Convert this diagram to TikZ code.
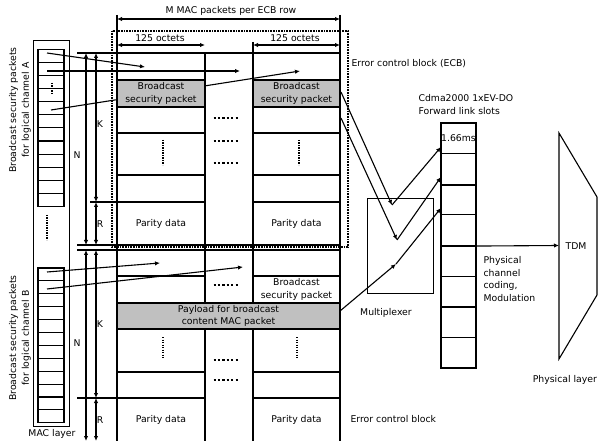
\documentclass[tikz,border=0pt]{standalone}
\usepackage{fontspec}
\setmainfont{DejaVu Sans}
\usetikzlibrary{arrows.meta, positioning, calc}
\definecolor{PacketGray}{HTML}{C0C0C0}

\begin{document}
\begin{tikzpicture}[x=1pt, y=-1pt, line width=1.1pt,
    every node/.style={font=\fontsize{9.3}{12.8}\selectfont, inner sep=0pt, align=center},
    pktbox/.style={draw, fill=PacketGray, minimum height=27pt},
    dimarrow/.style={{Latex[length=5pt, width=4.4pt]}-{Latex[length=5pt, width=4.4pt]}},
    flow/.style={-{Latex[length=5pt, width=4.4pt]}},
    hdots/.style={line width=2.3pt, dash pattern=on 2.3pt off 2.1pt},
    vdots/.style={line width=1.8pt, dash pattern=on 1.3pt off 1.2pt},
    ecbframe/.style={line width=2.6pt, dash pattern=on 0.9pt off 0.7pt}]
\useasboundingbox (0,0) rectangle (598,441);

% MAC layer stacks
\draw[line width=1pt] (33,41) rectangle (69,426);
\foreach \i in {1,...,12} {
  \node[draw, minimum width=26pt, minimum height=13.1pt] (a\i) at (51, 42.75+13.1*\i) {};
  \node[draw, minimum width=26pt, minimum height=12.9pt] (b\i) at (51, 261.55+12.9*\i) {};
}
\draw[vdots, line width=1.3pt] (52,83) -- (52,95);
\draw[vdots, line width=1.2pt] (47,215) -- (47,240);
\node[rotate=90] (chanA) at (20,110) {Broadcast security packets\\for logical channel A};
\node[rotate=90] (chanB) at (20,338) {Broadcast security packets\\for logical channel B};
\node (maclayer) at (52,434) {MAC layer};

% reference levels
\coordinate (nx) at (86,0);   \coordinate (kx) at (96,0);
\coordinate (c1l) at (117,0); \coordinate (c1r) at (205,0);
\coordinate (c3l) at (253,0); \coordinate (c3r) at (340,0);
\coordinate (hdrM) at (0,19); \coordinate (hdrO) at (0,45);
\coordinate (topA) at (0,53); \coordinate (parA) at (0,202); \coordinate (botA) at (0,245);
\coordinate (topB) at (0,250); \coordinate (parB) at (0,398); \coordinate (botB) at (0,441);

% ECB table
\foreach \xa/\xb in {117/205, 253/340} {
  \foreach \ya/\yb in {53/80, 80/107, 107/133, 133/175, 175/202, 202/245, 250/276, 276/303, 329/372, 372/398}
    \draw (\xa,\ya) rectangle (\xb,\yb);
}
\draw (117,15) -- (117,441) (340,15) -- (340,441);
\draw (205,53) -- (205,441) (253,42) -- (253,441);
\draw (205,53) -- (253,53) (205,245) -- (253,245) (205,250) -- (253,250);
\draw (77,53) -- (117,53) (90,202) -- (117,202) (77,245) -- (117,245)
      (77,250) -- (117,250) (77,398) -- (117,398);

% header
\draw[dimarrow] (c1l |- hdrM) -- (c3r |- hdrM);
\draw[dimarrow] (c1l |- hdrO) -- (c1r |- hdrO);
\draw[dimarrow] (c3l |- hdrO) -- (c3r |- hdrO);
\node (mrow) at (231,11) {M MAC packets per ECB row};
\node (octL) at (160,38.5) {125 octets};
\node (octR) at (295,38.5) {125 octets};

% N, K, R
\draw[dimarrow] (nx |- topA) -- (nx |- botA);
\draw[dimarrow] (kx |- topA) -- (kx |- parA);
\draw[dimarrow] (kx |- parA) -- (kx |- botA);
\draw[dimarrow] (nx |- topB) -- (nx |- botB);
\draw[dimarrow] (kx |- topB) -- (kx |- parB);
\draw[dimarrow] (kx |- parB) -- (kx |- botB);
\node (nA) at (77,155) {N};
\node (kA) at (100,124) {K};
\node (rA) at (100,224) {R};
\node (nB) at (77,343) {N};
\node (kB) at (100,324) {K};
\node (rB) at (100,420) {R};

% Arrows from the MAC layer
\coordinate (srcA1) at (47,53);  \coordinate (dstA1) at (145,67);
\coordinate (srcA2) at (47,71);  \coordinate (dstA2) at (240,71);
\coordinate (srcA3) at (51,110); \coordinate (dstA3) at (300,71);
\coordinate (srcB1) at (47,272); \coordinate (dstB1) at (160,263);
\coordinate (srcB2) at (47,289); \coordinate (dstB2) at (243,267);
\draw[flow] (srcA1) -- (dstA1);
\draw[flow] (srcA2) -- (dstA2);
\draw[flow] (srcA3) -- (dstA3);
\draw[flow] (srcB1) -- (dstB1);
\draw[flow] (srcB2) -- (dstB2);

% packets
\node[pktbox, minimum width=88pt] (bspA1) at (161,93.5) {Broadcast\\security packet};
\node[pktbox, minimum width=87pt] (bspA2) at (296.5,93.5) {Broadcast\\security packet};
\node[draw, minimum width=87pt, minimum height=27pt] (bspB2) at (296.5,289.5) {Broadcast\\security packet};
\node[pktbox, minimum width=223pt, minimum height=26pt] (payload) at (228.5,316) {Payload for broadcast\\content MAC packet};
\node (parA1) at (161,224) {Parity data};
\node (parA2) at (296.5,224) {Parity data};
\node (parB1) at (161,420) {Parity data};
\node (parB2) at (296.5,420) {Parity data};

% dots
\foreach \y in {118,141,163,285,360,380}
  \draw[hdots] (213.5,\y) -- (239,\y);
\draw[vdots] (163,140) -- (163,165) (299,140) -- (299,165);
\draw[vdots] (163,337) -- (163,358) (297,337) -- (297,358);

% ECB frame
\draw[ecbframe] (112,31) rectangle (348,247);
\node[anchor=west] (ecbA) at (351,64) {Error control block (ECB)};
\node[anchor=west] (ecbB) at (350,419) {Error control block};

% Multiplexer and slots
\node[draw, line width=0.9pt, minimum width=66pt, minimum height=95pt] (mux) at (400,245.5) {};
\node (muxlbl) at (386,313) {Multiplexer};
\foreach \i in {1,...,8}
  \node[draw, minimum width=35pt, minimum height=30.625pt] (s\i) at (458.5, 107.6875+30.625*\i) {};
\foreach \i in {2,4,6}
  \draw[line width=2pt] (s\i.south west) -- (s\i.south east);
\node (slotlen) at (s1) {1.66ms};
\node[anchor=west, align=left] (cdma) at (418,104.5) {Cdma2000 1xEV-DO\\Forward link slots};
\node[anchor=west, align=left] (coding) at (483,279) {Physical\\channel\\coding,\\Modulation};

\coordinate (pA) at (341,92);  \coordinate (vA) at (392,205); \coordinate (tA) at (441,147);
\coordinate (pB) at (341,118); \coordinate (vB) at (397,240); \coordinate (tB) at (441,177);
\coordinate (pC) at (340,311); \coordinate (vC) at (396,264); \coordinate (tC) at (441,208);
\draw[flow] (pA) -- (vA);
\draw[flow] (vA) -- (tA);
\draw[flow] (pB) -- (vB);
\draw[flow] (vB) -- (tB);
\draw[flow] (pC) -- (vC);
\draw[flow] (vC) -- (tC);

% Physical layer
\draw (559,133) -- (597,197) -- (597,295) -- (559,359) -- cycle;
\coordinate (tdmin) at (559,245.5);
\draw[flow] (s4.south east) -- (tdmin);
\node (tdm) at (576,246) {TDM};
\node[anchor=east] (phys) at (597.5,380) {Physical layer};
\end{tikzpicture}
\end{document}
